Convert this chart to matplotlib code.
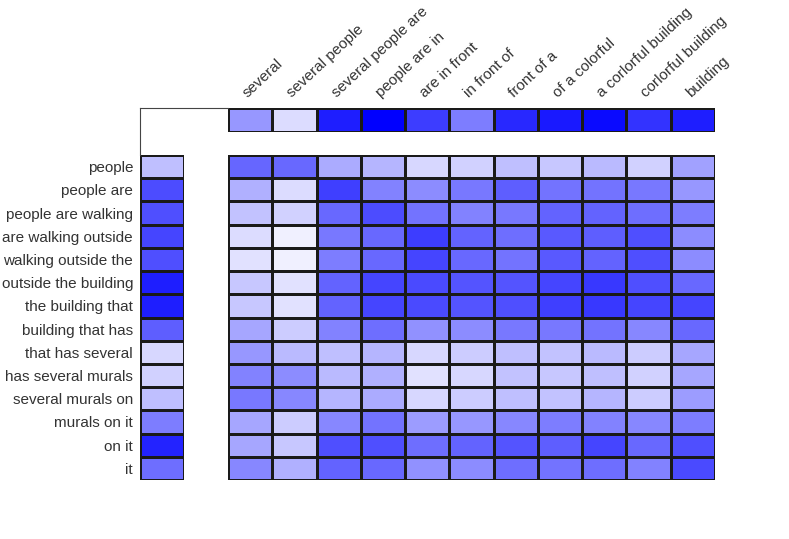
import numpy as np
import matplotlib
matplotlib.use("Agg")
import matplotlib.pyplot as plt
from matplotlib.colors import LinearSegmentedColormap
from matplotlib.lines import Line2D

plt.rcParams['font.family'] = ['Liberation Sans', 'DejaVu Sans']

# column phrases (top) and row phrases (left)
col_labels = ["several", "several people", "several people are", "people are in",
              "are in front", "in front of", "front of a", "of a colorful",
              "a corlorful building", "corlorful building", "building"]
row_labels = ["people", "people are", "people are walking", "are walking outside",
              "walking outside the", "outside the building", "the building that",
              "building that has", "that has several", "has several murals",
              "several murals on", "murals on it", "on it", "it"]

# weights, 0 = white, 1 = full blue
top_w = [0.41, 0.14, 0.88, 1.00, 0.76, 0.51, 0.84, 0.90, 0.96, 0.80, 0.88]
left_w = [0.25, 0.70, 0.69, 0.73, 0.69, 0.88, 0.88, 0.63, 0.16, 0.18, 0.25, 0.51, 0.86, 0.57]

row0 = [0.60, 0.59, 0.33, 0.29, 0.16, 0.18, 0.25, 0.22, 0.27, 0.18, 0.37]
row1 = [0.31, 0.14, 0.75, 0.49, 0.45, 0.53, 0.63, 0.55, 0.55, 0.53, 0.41]
row2 = [0.24, 0.18, 0.59, 0.70, 0.55, 0.49, 0.53, 0.61, 0.61, 0.57, 0.51]
row3 = [0.14, 0.06, 0.53, 0.59, 0.76, 0.61, 0.57, 0.65, 0.63, 0.69, 0.45]
row4 = [0.12, 0.06, 0.51, 0.59, 0.73, 0.59, 0.55, 0.65, 0.61, 0.69, 0.45]
row5 = [0.22, 0.12, 0.61, 0.73, 0.71, 0.67, 0.67, 0.73, 0.78, 0.69, 0.59]
row6 = [0.22, 0.12, 0.61, 0.73, 0.71, 0.67, 0.69, 0.75, 0.78, 0.73, 0.73]
row7 = [0.35, 0.20, 0.49, 0.57, 0.43, 0.45, 0.53, 0.53, 0.55, 0.47, 0.59]
row8 = [0.41, 0.27, 0.25, 0.29, 0.16, 0.20, 0.25, 0.24, 0.27, 0.20, 0.35]
row9 = [0.49, 0.45, 0.27, 0.31, 0.12, 0.16, 0.24, 0.22, 0.25, 0.18, 0.35]
row10 = [0.53, 0.47, 0.29, 0.33, 0.16, 0.20, 0.25, 0.24, 0.29, 0.20, 0.39]
row11 = [0.35, 0.20, 0.47, 0.55, 0.39, 0.41, 0.47, 0.51, 0.49, 0.47, 0.51]
row12 = [0.35, 0.22, 0.69, 0.69, 0.57, 0.61, 0.67, 0.63, 0.73, 0.59, 0.69]
row13 = [0.47, 0.31, 0.61, 0.59, 0.43, 0.45, 0.57, 0.55, 0.57, 0.49, 0.71]

main_w = np.array([row0, row1, row2, row3, row4, row5, row6, row7,
                   row8, row9, row10, row11, row12, row13])

cmap = LinearSegmentedColormap.from_list("wb", ["#ffffff", "#0000ff"])
W, H = 789, 539
txt_col = '#333333'
edge = '#1a1a1a'
fs = 11

fig = plt.figure(figsize=(W/100, H/100), dpi=100)

def box(x0, y0, x1, y1):
    # pixel box (top-left origin) -> figure fraction
    return [x0/W, (H-y1)/H, (x1-x0)/W, (y1-y0)/H]

ax = fig.add_axes(box(228, 155, 715, 480))
ax_top = fig.add_axes(box(228, 108, 715, 132))
ax_left = fig.add_axes(box(140, 155, 184, 480))

nr, nc = main_w.shape
ax.pcolormesh(main_w, cmap=cmap, vmin=0, vmax=1, edgecolors=edge, linewidth=0.75)
ax.set_xlim(0, nc)
ax.set_ylim(nr, 0)

ax_top.pcolormesh(np.array([top_w]), cmap=cmap, vmin=0, vmax=1, edgecolors=edge, linewidth=0.75)
ax_top.set_xlim(0, nc)
ax_top.set_ylim(1, 0)

ax_left.pcolormesh(np.array(left_w)[:, None], cmap=cmap, vmin=0, vmax=1, edgecolors=edge, linewidth=0.75)
ax_left.set_xlim(0, 1)
ax_left.set_ylim(nr, 0)

for a in (ax, ax_top, ax_left):
    a.set_xticks([])
    a.set_yticks([])
    for s in a.spines.values():
        s.set_visible(False)

ax_left.set_yticks(np.arange(nr) + 0.5)
ax_left.set_yticklabels(row_labels, fontsize=fs, color=txt_col)
ax_left.tick_params(axis='y', length=0, pad=5)

for i, lab in enumerate(col_labels):
    ax_top.annotate(lab, xy=(i + 0.45, 0), xycoords='data',
                    xytext=(0, 7.5), textcoords='offset points',
                    rotation=43, rotation_mode='anchor', ha='left', va='baseline',
                    fontsize=fs, color=txt_col)

# thin frame in the top-left corner
fig.add_artist(Line2D([140/W, 228/W], [(H-108)/H, (H-108)/H], color='#444444', lw=0.8))
fig.add_artist(Line2D([140/W, 140/W], [(H-108)/H, (H-155)/H], color='#444444', lw=0.8))

fig.savefig("out.png", dpi=100)
